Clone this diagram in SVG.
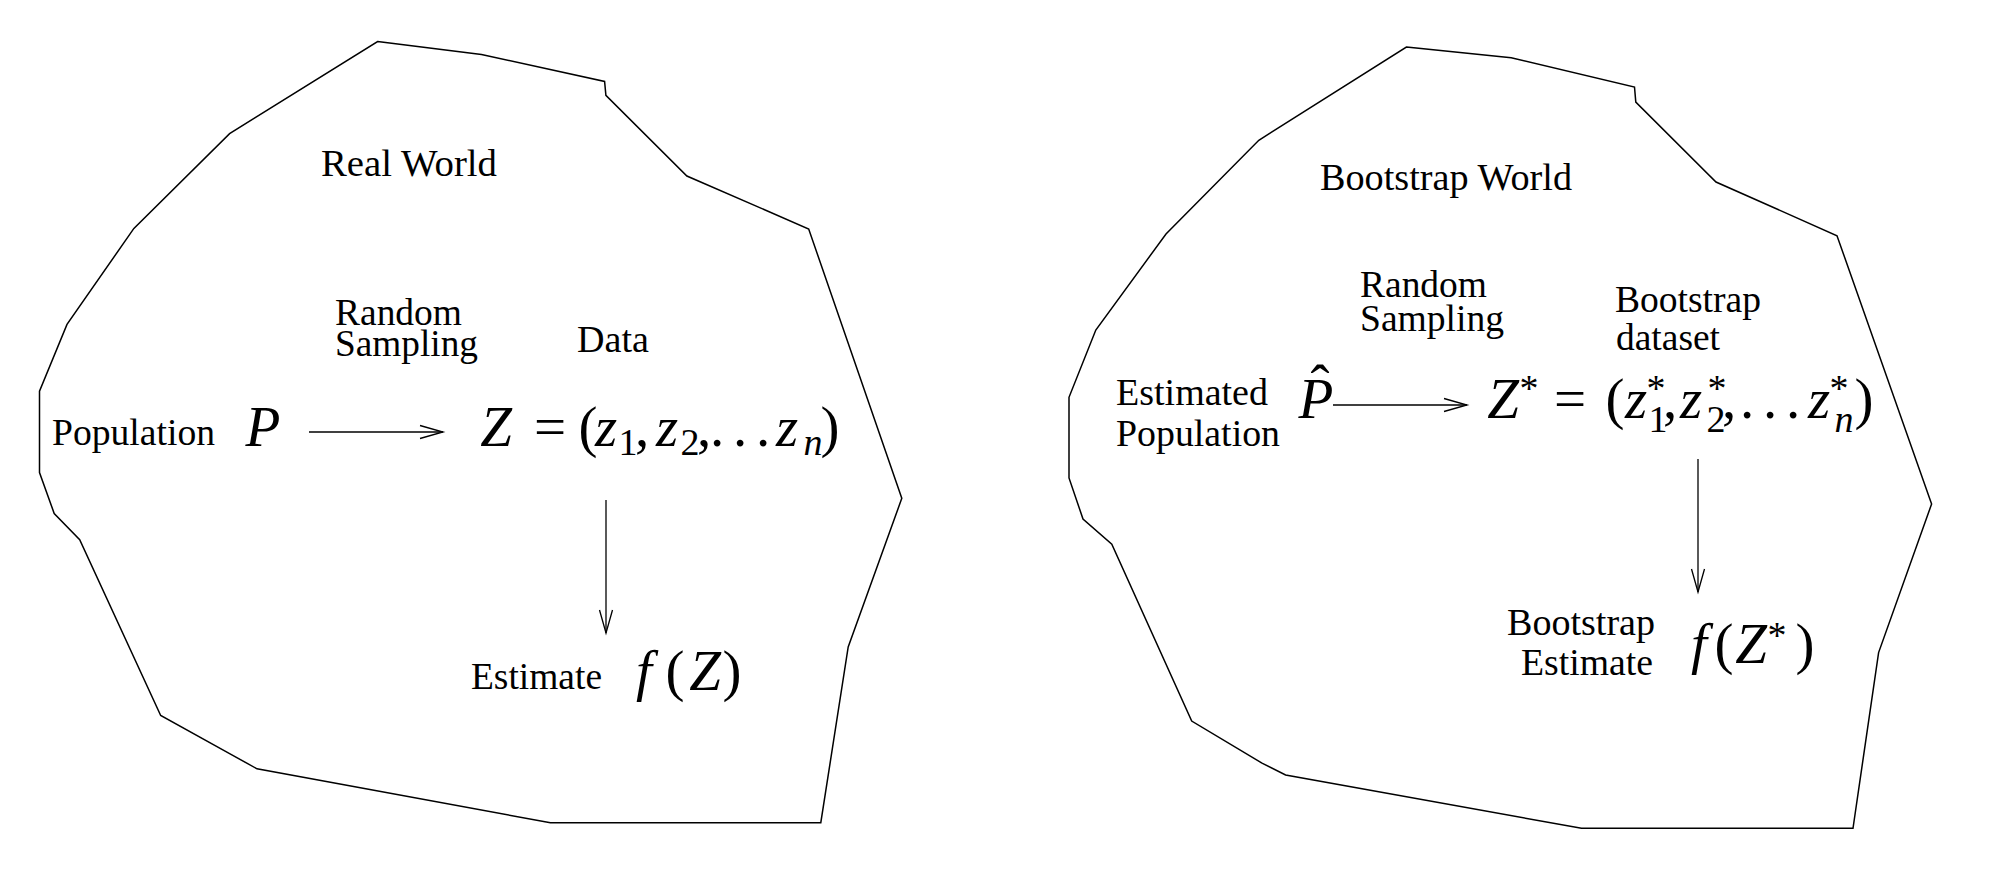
<svg xmlns="http://www.w3.org/2000/svg" width="2002" height="880" viewBox="0 0 2002 880">
<defs>
<style>
.t{font-family:"Liberation Serif","Times New Roman",serif;font-size:37px;fill:#000}
.m{font-family:"Liberation Serif","Times New Roman",serif;font-size:57px;font-style:italic;fill:#000;text-anchor:middle}
.r{font-style:normal}
.s{font-size:38px}
.world{fill:#fff;stroke:#000;stroke-width:1.5;stroke-linejoin:miter}
.conn{stroke:#000;stroke-width:1.3;fill:none}
</style>
<marker id="ah" markerUnits="userSpaceOnUse" viewBox="0 0 30 16" markerWidth="30" markerHeight="16" refX="24" refY="8" orient="auto">
<path d="M1,1.5 L24,8 L1,14.5" fill="none" stroke="#000" stroke-width="1.3"/>
</marker>
</defs>
<rect width="2002" height="880" fill="#fff"/>

<g id="real-world">
<polygon class="world" points="377.6,41.5 481.5,54.4 604.6,81.4 605.9,95.4 686.9,176 808.7,229 901.8,498.3 848.2,647 820.8,822.7 550.4,822.7 257,768.8 229.6,753.6 160.7,715.5 79.7,539.8 54.2,513.5 39.5,472.5 39.5,391.1 67,324.4 133.9,228.4 229.6,133.6"/>
<text class="t" x="321" y="176" textLength="176" lengthAdjust="spacingAndGlyphs">Real World</text>
</g>

<g id="bootstrap-world">
<polygon class="world" points="1406.4,47.1 1511.2,57.8 1634.5,87 1635.8,102.1 1716,182 1837,235.7 1931.6,504 1878.6,652.6 1853,828.3 1581.5,828.3 1285.6,775 1262,763.2 1191.7,721.1 1111.8,544.3 1083,519 1069,478 1069,397.3 1095.8,330 1166,234 1258.8,140.3"/>
<text class="t" x="1320" y="190" textLength="252" lengthAdjust="spacingAndGlyphs">Bootstrap World</text>
</g>

<g id="population">
<text class="t" x="52" y="445" textLength="163" lengthAdjust="spacingAndGlyphs">Population</text>
<text class="m" x="263" y="446">P</text>
</g>

<g id="sampling-label">
<text class="t" x="335" y="325" textLength="127" lengthAdjust="spacingAndGlyphs">Random</text>
<text class="t" x="335" y="356" textLength="143" lengthAdjust="spacingAndGlyphs">Sampling</text>
</g>

<g id="data">
<text class="t" x="577" y="352" textLength="72" lengthAdjust="spacingAndGlyphs">Data</text>
<text class="m" y="446"><tspan x="496">Z</tspan><tspan class="r" x="550">=</tspan><tspan class="r" x="588">(</tspan><tspan x="606">z</tspan><tspan class="r s" x="628" y="455">1</tspan><tspan class="r" x="642" y="446">,</tspan><tspan x="667">z</tspan><tspan class="r s" x="690" y="455">2</tspan><tspan class="r" x="704" y="446">,</tspan><tspan class="r" x="717 740 763">...</tspan><tspan x="787">z</tspan><tspan class="s" x="813" y="455">n</tspan><tspan class="r" x="830" y="446">)</tspan></text>
</g>

<g id="estimate">
<text class="t" x="471" y="689" textLength="131" lengthAdjust="spacingAndGlyphs">Estimate</text>
<text class="m" y="690"><tspan x="644">f</tspan><tspan class="r" x="675">(</tspan><tspan x="705">Z</tspan><tspan class="r" x="732">)</tspan></text>
</g>

<g id="estimated-population">
<text class="t" x="1116" y="405" textLength="152" lengthAdjust="spacingAndGlyphs">Estimated</text>
<text class="t" x="1116" y="446" textLength="164" lengthAdjust="spacingAndGlyphs">Population</text>
<text class="m" x="1316" y="418">P</text>
<text class="m r" x="1320" y="404">ˆ</text>
</g>

<g id="sampling-label-bootstrap">
<text class="t" x="1360" y="297" textLength="127" lengthAdjust="spacingAndGlyphs">Random</text>
<text class="t" x="1360" y="331" textLength="144" lengthAdjust="spacingAndGlyphs">Sampling</text>
</g>

<g id="bootstrap-dataset">
<text class="t" x="1615" y="312" textLength="146" lengthAdjust="spacingAndGlyphs">Bootstrap</text>
<text class="t" x="1616" y="350" textLength="104" lengthAdjust="spacingAndGlyphs">dataset</text>
<text class="m" y="418"><tspan x="1503">Z</tspan><tspan class="r s" x="1529" y="401">*</tspan><tspan class="r" x="1570" y="418">=</tspan><tspan class="r" x="1615">(</tspan><tspan x="1636">z</tspan><tspan class="r s" x="1656" y="401">*</tspan><tspan class="r s" x="1658" y="432">1</tspan><tspan class="r" x="1670" y="418">,</tspan><tspan x="1691">z</tspan><tspan class="r s" x="1717" y="401">*</tspan><tspan class="r s" x="1716" y="432">2</tspan><tspan class="r" x="1729" y="418">,</tspan><tspan class="r" x="1747 1770 1793">...</tspan><tspan x="1819">z</tspan><tspan class="r s" x="1839" y="401">*</tspan><tspan class="s" x="1844" y="432">n</tspan><tspan class="r" x="1864" y="418">)</tspan></text>
</g>

<g id="bootstrap-estimate">
<text class="t" x="1507" y="635" textLength="148" lengthAdjust="spacingAndGlyphs">Bootstrap</text>
<text class="t" x="1521" y="675" textLength="132" lengthAdjust="spacingAndGlyphs">Estimate</text>
<text class="m" y="663"><tspan x="1699">f</tspan><tspan class="r" x="1724">(</tspan><tspan x="1751">Z</tspan><tspan class="r s" x="1777" y="648">*</tspan><tspan class="r" x="1805" y="663">)</tspan></text>
</g>

<g id="connectors">
<line class="conn" x1="309" y1="432" x2="443" y2="432" marker-end="url(#ah)"/>
<line class="conn" x1="606" y1="500" x2="606" y2="633" marker-end="url(#ah)"/>
<line class="conn" x1="1333" y1="405" x2="1467" y2="405" marker-end="url(#ah)"/>
<line class="conn" x1="1698" y1="459" x2="1698" y2="592" marker-end="url(#ah)"/>
</g>
</svg>
